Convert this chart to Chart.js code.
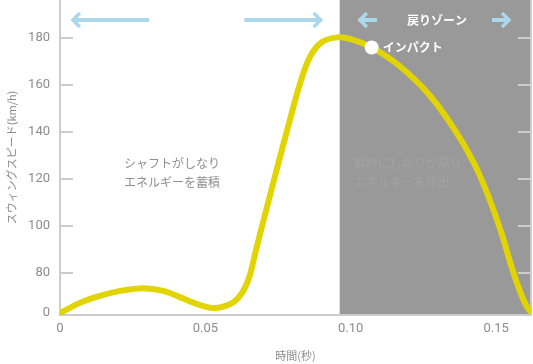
<!DOCTYPE html>
<html>
<head>
<meta charset="utf-8">
<script src="https://cdn.jsdelivr.net/npm/chart.js@4"></script>
<style>
  body { margin: 0; background: #fff; }
  canvas { display: block; }
</style>
</head>
<body>
<canvas id="swing" width="533" height="364"></canvas>
<script>
// time (s) and swing speed (km/h)
const times  = [0, 0.0066, 0.0134, 0.0203, 0.0283, 0.0359, 0.0445, 0.0514, 0.0555, 0.0597, 0.0628,
                0.0652, 0.0672, 0.0700, 0.0741, 0.0783, 0.0824, 0.0859, 0.0900, 0.0955, 0.1003,
                0.1072, 0.1169, 0.1272, 0.1359, 0.1428, 0.1479, 0.1521, 0.1555, 0.1583, 0.1603, 0.1617];
const speeds = [0, 20, 34, 44, 50, 44, 24, 11, 12, 22, 42,
                74, 88.8, 102.4, 122, 141.6, 160, 171.8, 178.2, 180.3, 179.4,
                176, 168, 155.6, 140.7, 125.8, 110.9, 96, 82, 42, 16, 4];

const impactTime = 0.1072;
const impactSpeed = 176;
const returnZoneStart = 0.0962;

const yTickValues = [0, 80, 100, 120, 140, 160, 180];
const xTickValues = [0, 0.05, 0.10, 0.15];

// axis is broken between 0 and 80: that span is squeezed
const BREAK = 80, ZERO_POS = 63;
function toAxis(v) { return v >= BREAK ? v : ZERO_POS + v * (BREAK - ZERO_POS) / BREAK; }

const JP = '"Noto Sans CJK JP", "Noto Sans", sans-serif';
const NUM = 'Roboto, "DejaVu Sans", sans-serif';
const ARROW = '#abd8ea';

function arrow(ctx, x1, x2, y, headLeft) {
  ctx.save();
  ctx.strokeStyle = ARROW;
  ctx.lineWidth = 4;
  ctx.beginPath();
  ctx.moveTo(x1, y); ctx.lineTo(x2, y);
  ctx.stroke();
  const tip = headLeft ? x1 : x2, d = headLeft ? 1 : -1;
  ctx.lineWidth = 3.5;
  ctx.beginPath();
  ctx.moveTo(tip + d * 8, y - 7);
  ctx.lineTo(tip + d * 1, y);
  ctx.lineTo(tip + d * 8, y + 7);
  ctx.stroke();
  ctx.restore();
}

const decor = {
  id: 'decor',
  beforeDraw(chart) {
    const {ctx, chartArea, scales: {x}} = chart;
    const left = x.getPixelForValue(returnZoneStart);
    ctx.save();
    ctx.fillStyle = '#999999';
    ctx.fillRect(left, 0, chartArea.right - left, chartArea.bottom);
    ctx.restore();
  },
  beforeDatasetsDraw(chart) {
    const {ctx, chartArea, scales: {x, y}} = chart;
    ctx.save();
    // inner tick marks, left and right
    ctx.strokeStyle = '#cccccc';
    ctx.lineWidth = 2;
    yTickValues.filter(v => v > 0).forEach(v => {
      const py = Math.round(y.getPixelForValue(toAxis(v)));
      ctx.beginPath();
      ctx.moveTo(chartArea.left, py); ctx.lineTo(chartArea.left + 13, py);
      ctx.moveTo(chartArea.right - 13, py); ctx.lineTo(chartArea.right, py);
      ctx.stroke();
    });
    ctx.beginPath();
    ctx.moveTo(chartArea.right, 0); ctx.lineTo(chartArea.right, chartArea.bottom);
    ctx.stroke();

    // arrows
    const ay = y.getPixelForValue(187.7);
    arrow(ctx, x.getPixelForValue(0.0041), x.getPixelForValue(0.0307), ay, true);
    arrow(ctx, x.getPixelForValue(0.0634), x.getPixelForValue(0.0900), ay, false);
    arrow(ctx, x.getPixelForValue(0.1028), x.getPixelForValue(0.1090), ay, true);
    arrow(ctx, x.getPixelForValue(0.1486), x.getPixelForValue(0.1548), ay, false);

    ctx.textBaseline = 'middle';
    ctx.textAlign = 'center';
    ctx.fillStyle = '#ffffff';
    ctx.font = 'bold 12px ' + JP;
    ctx.fillText('戻りゾーン', x.getPixelForValue(0.1297), ay);

    ctx.textAlign = 'left';
    ctx.font = '12px ' + JP;
    ctx.fillStyle = '#8f8f8f';
    ctx.fillText('シャフトがしなり', x.getPixelForValue(0.022), y.getPixelForValue(126.8));
    ctx.fillText('エネルギーを蓄積', x.getPixelForValue(0.022), y.getPixelForValue(118.7));
    ctx.fillStyle = '#a3a3a3';
    ctx.fillText('瞬時にしなりが戻り', x.getPixelForValue(0.101), y.getPixelForValue(126.8));
    ctx.fillText('エネルギーを放出', x.getPixelForValue(0.101), y.getPixelForValue(118.7));
    ctx.restore();
  },
  afterDatasetsDraw(chart) {
    const {ctx, scales: {x, y}} = chart;
    ctx.save();
    ctx.fillStyle = '#ffffff';
    ctx.font = 'bold 12px ' + JP;
    ctx.textBaseline = 'middle';
    ctx.fillText('インパクト', x.getPixelForValue(impactTime) + 11, y.getPixelForValue(toAxis(impactSpeed)));
    ctx.restore();
  }
};

new Chart(document.getElementById('swing'), {
  type: 'line',
  data: {
    datasets: [
      {
        data: [{x: impactTime, y: toAxis(impactSpeed)}],
        showLine: false,
        pointRadius: 7,
        pointBackgroundColor: '#ffffff',
        pointBorderWidth: 0,
        order: 0
      },
      {
        data: times.map((t, i) => ({x: t, y: toAxis(speeds[i])})),
        borderColor: '#e1d400',
        borderWidth: 6,
        pointRadius: 0,
        tension: 0.35,
        borderCapStyle: 'round',
        fill: false,
        order: 1
      }
    ]
  },
  options: {
    responsive: false,
    animation: false,
    devicePixelRatio: 1,
    layout: {autoPadding: false, padding: {top: 0, right: 2, left: 0, bottom: 0}},
    plugins: {legend: {display: false}, tooltip: {enabled: false}},
    scales: {
      x: {
        type: 'linear',
        min: 0,
        max: 0.162,
        afterBuildTicks: s => { s.ticks = xTickValues.map(v => ({value: v})); },
        afterFit: s => { s.height = 49; s.paddingLeft = 0; s.paddingRight = 0; },
        grid: {display: false, drawTicks: false},
        border: {color: '#cccccc', width: 2},
        ticks: {
          padding: 6,
          color: '#8c8c8c',
          font: {family: NUM, size: 13},
          callback: v => v === 0 ? '0' : v.toFixed(2)
        },
        title: {
          display: true,
          text: '時間(秒)',
          color: '#8c8c8c',
          font: {family: JP, size: 11},
          padding: {top: 0, bottom: 2}
        }
      },
      y: {
        min: 62.2,
        max: 196.2,
        afterBuildTicks: s => { s.ticks = yTickValues.map(v => ({value: toAxis(v)})); },
        afterFit: s => { s.width = 60; s.paddingTop = 0; s.paddingBottom = 0; },
        grid: {display: false, drawTicks: false},
        border: {color: '#cccccc', width: 2},
        ticks: {
          padding: 10,
          color: '#8c8c8c',
          font: {family: NUM, size: 13},
          callback: v => v === ZERO_POS ? '0' : String(v)
        },
        title: {
          display: true,
          text: 'スウィングスピード(km/h)',
          color: '#8c8c8c',
          font: {family: JP, size: 11},
          padding: {top: 5, bottom: 0}
        }
      }
    }
  },
  plugins: [decor]
});
</script>
</body>
</html>
